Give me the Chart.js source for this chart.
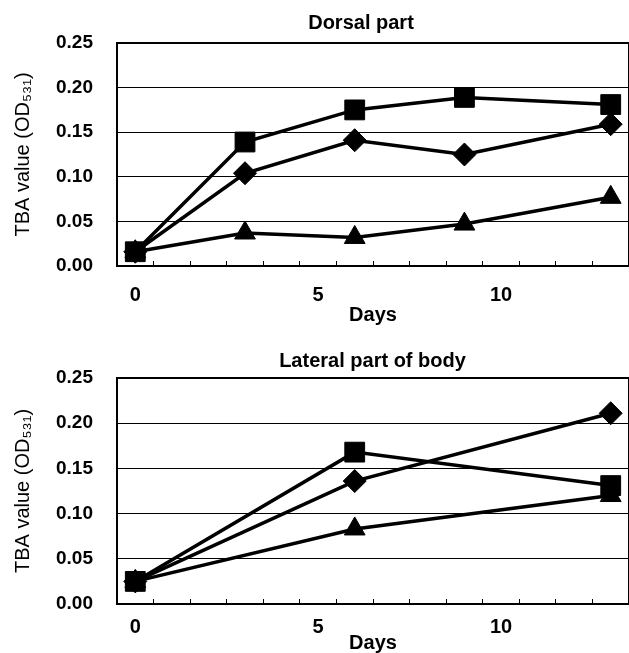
<!DOCTYPE html>
<html>
<head>
<meta charset="utf-8">
<script src="https://cdn.jsdelivr.net/npm/chart.js@4.4.1/dist/chart.umd.min.js"></script>
<style>
    body { margin: 0; background: #fff; }
    canvas { position: absolute; left: 0; }
    #chart1 { top: 0; }
    #chart2 { top: 325px; }
</style>
</head>
<body>
<canvas id="chart1" width="629" height="325"></canvas>
<canvas id="chart2" width="629" height="328"></canvas>
<script>
// Dorsal part
const dorsalDays = [0, 3, 6, 9, 13]
const dorsalSquare = [0.016, 0.139, 0.175, 0.189, 0.181]
const dorsalDiamond = [0.016, 0.104, 0.141, 0.125, 0.159]
const dorsalTriangle = [0.016, 0.037, 0.032, 0.047, 0.077]

// Lateral part of body
const lateralDays = [0, 6, 13]
const lateralSquare = [0.025, 0.168, 0.131]
const lateralDiamond = [0.025, 0.136, 0.211]
const lateralTriangle = [0.025, 0.083, 0.120]

// axis ticks
const xLabels = [0, 5, 10]
const xMinorTicks = [0.5, 1.5, 2.5, 3.5, 4.5, 5.5, 6.5, 7.5, 8.5, 9.5, 10.5, 11.5, 12.5]
const yTicks = [0, 0.05, 0.10, 0.15, 0.20, 0.25]

const FONT = "'Liberation Sans', Arial, 'DejaVu Sans', sans-serif"
Chart.defaults.color = '#000'

function drawChart(id, titleText, days, squares, diamonds, triangles, g) {
    const toPoints = vals => vals.map((v, i) => ({x: days[i], y: v}))
    const lineStyle = {
        borderColor: '#000',
        backgroundColor: '#000',
        borderWidth: 3.5,
        pointBackgroundColor: '#000',
        pointBorderColor: '#000',
        pointBorderWidth: 1,
        tension: 0
    }

    const ctx = document.querySelector(id).getContext('2d')
    return new Chart(ctx, {
        type: 'line',
        data: {
            datasets: [
                {...lineStyle, label: 'square', data: toPoints(squares), pointStyle: 'rect', pointRadius: 14},
                {...lineStyle, label: 'diamond', data: toPoints(diamonds), pointStyle: 'rectRot', pointRadius: 11.5},
                {...lineStyle, label: 'triangle', data: toPoints(triangles), pointStyle: 'triangle', pointRadius: 12}
            ]
        },
        options: {
            responsive: false,
            animation: false,
            // negative right padding pushes the (full width) title box so it is centred like the original
            layout: { autoPadding: false, padding: { left: 0, right: g.padRight, top: 0, bottom: 0 } },
            plugins: {
                legend: { display: false },
                tooltip: { enabled: false },
                title: {
                    display: true,
                    text: titleText,
                    fullSize: true,
                    color: '#000',
                    font: { family: FONT, size: 20, weight: 'bold', lineHeight: 1.2 },
                    padding: { top: g.titleTop, bottom: g.titleBottom }
                }
            },
            scales: {
                x: {
                    type: 'linear',
                    min: -0.5,
                    max: 13.5,
                    afterBuildTicks: axis => {
                        axis.ticks = [...xLabels, ...xMinorTicks].sort((a, b) => a - b).map(v => ({value: v}))
                    },
                    afterFit: axis => { axis.height = g.xHeight },
                    ticks: {
                        autoSkip: false,
                        maxRotation: 0,
                        padding: g.xTickPad,
                        color: '#000',
                        font: { family: FONT, size: 20, weight: 'bold', lineHeight: 1.2 },
                        callback: v => xLabels.includes(v) ? String(v) : ''
                    },
                    grid: {
                        drawOnChartArea: false,
                        drawTicks: true,
                        tickLength: -5,
                        lineWidth: 1,
                        color: c => (c.tick && xLabels.includes(c.tick.value)) ? 'rgba(0,0,0,0)' : '#000'
                    },
                    border: { color: '#000', width: 2 },
                    title: {
                        display: true,
                        text: 'Days',
                        color: '#000',
                        font: { family: FONT, size: 20, weight: 'bold', lineHeight: 1 },
                        padding: { top: 0, bottom: g.daysPad }
                    }
                },
                y: {
                    min: 0,
                    max: 0.25,
                    afterBuildTicks: axis => { axis.ticks = yTicks.map(v => ({value: v})) },
                    afterFit: axis => { axis.width = 117 },
                    ticks: {
                        padding: 24,
                        color: '#000',
                        font: { family: FONT, size: 19, weight: 'bold' },
                        callback: v => v.toFixed(2)
                    },
                    grid: {
                        color: '#000',
                        drawTicks: false,
                        lineWidth: c => (c.tick && c.tick.value === 0.25) ? 2 : 1
                    },
                    border: { color: '#000', width: 2 },
                    title: {
                        display: true,
                        text: 'TBA value (OD₅₃₁)',
                        color: '#000',
                        font: { family: FONT, size: 20, weight: 'normal', lineHeight: 1.2 },
                        padding: { top: 11, bottom: 0 }
                    }
                },
                y2: {
                    position: 'right',
                    min: 0,
                    max: 0.25,
                    ticks: { display: false },
                    grid: { display: false },
                    border: { color: '#000', width: 1.5 },
                    afterFit: axis => { axis.width = 628 - 629 - g.padRight }
                }
            }
        }
    })
}

drawChart('#chart1', 'Dorsal part', dorsalDays, dorsalSquare, dorsalDiamond, dorsalTriangle,
    { padRight: -93, titleTop: 11, titleBottom: 8, xHeight: 59, xTickPad: 22, daysPad: 0 })

drawChart('#chart2', 'Lateral part of body', lateralDays, lateralSquare, lateralDiamond, lateralTriangle,
    { padRight: -116, titleTop: 24, titleBottom: 5, xHeight: 49, xTickPad: 16, daysPad: 0 })
</script>
</body>
</html>
